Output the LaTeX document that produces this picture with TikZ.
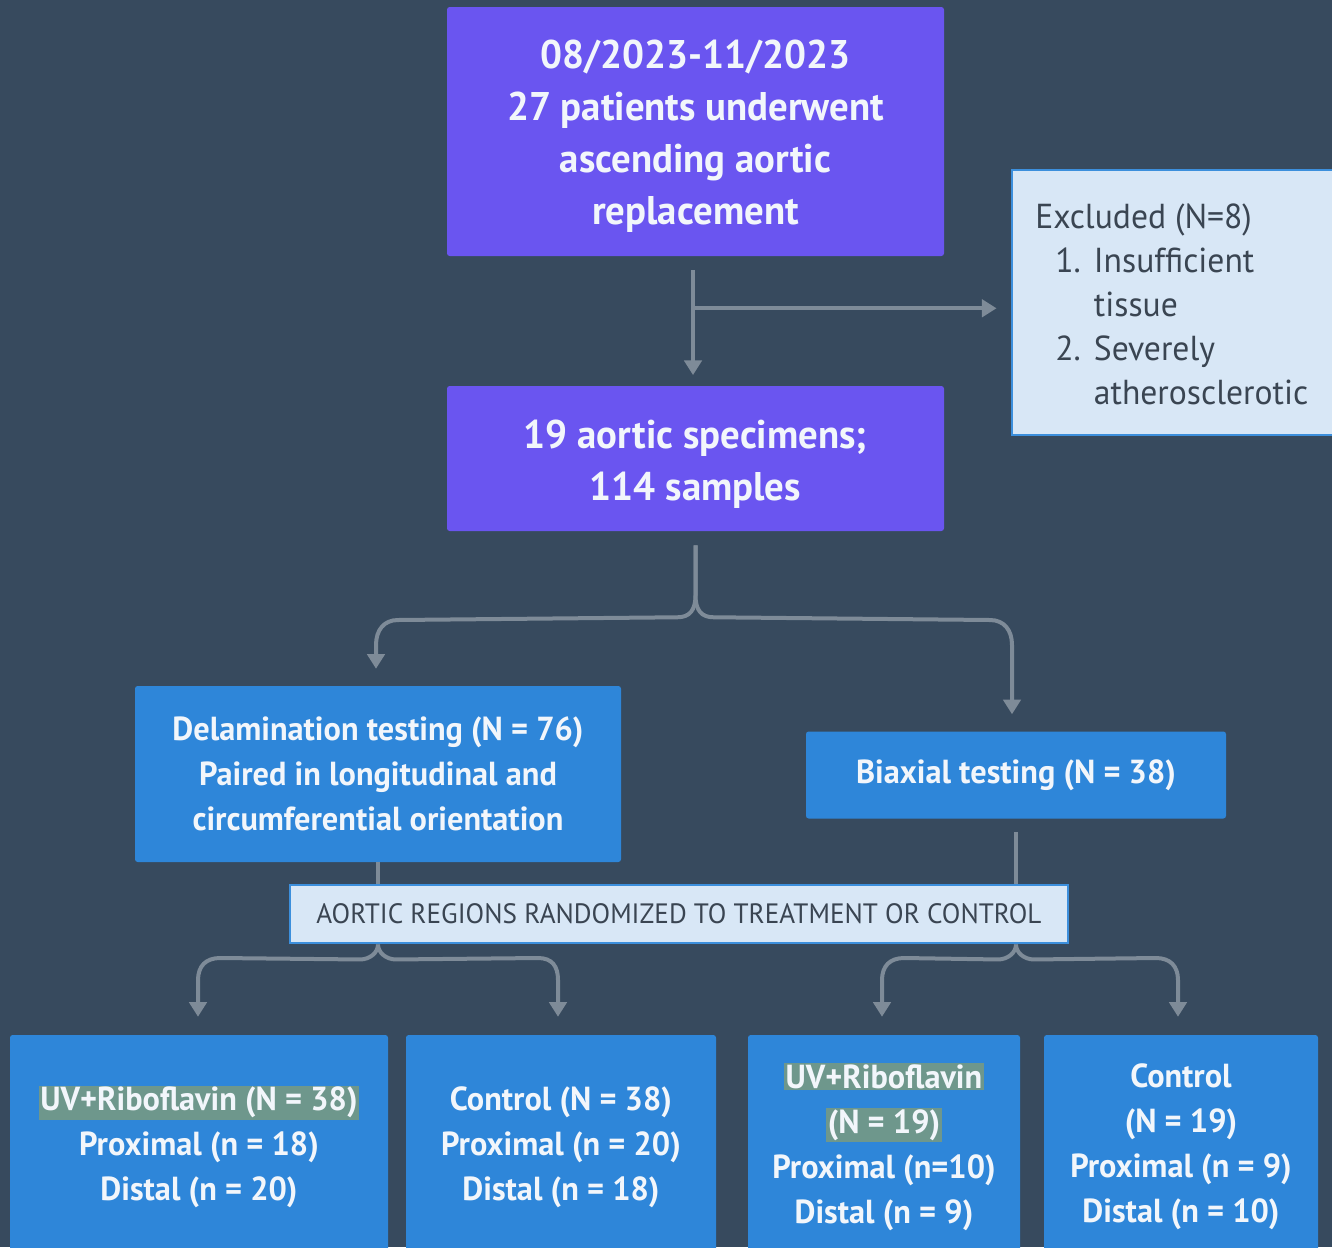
\documentclass[tikz,border=0pt]{standalone}
\usepackage{fontspec}
\setmainfont{PT Sans}[FakeStretch=0.97]
\usetikzlibrary{arrows.meta,calc}
\definecolor{bg}{HTML}{374A5E}
\definecolor{purp}{HTML}{6A55F0}
\definecolor{blu}{HTML}{2E86D9}
\definecolor{lite}{HTML}{D8E7F6}
\definecolor{liteb}{HTML}{3C8FDC}
\definecolor{arrc}{HTML}{7E8B98}
\definecolor{hlc}{HTML}{6E978C}
\definecolor{txtd}{HTML}{3A4552}
\definecolor{txtw}{HTML}{F2F6FB}
\newcommand{\hlt}[1]{{\setlength\fboxsep{1pt}\colorbox{hlc}{#1}}}
\tikzset{
  bsize/.style 2 args={minimum width=#1*0.75pt, minimum height=#2*0.75pt},
  pbox/.style={fill=purp, rounded corners=2pt, text=txtw, font=\bfseries\fontsize{30}{39}\selectfont, align=center, inner sep=0pt},
  bbox/.style={fill=blu, rounded corners=2pt, text=txtw, font=\bfseries\fontsize{25}{33.75}\selectfont, align=center, inner sep=0pt},
  lbox/.style={fill=lite, draw=liteb, line width=2.2pt, inner sep=0pt},
  arr/.style={draw=arrc, line width=3pt, -{Triangle[width=13pt,length=11pt]}},
  ln/.style={draw=arrc, line width=3pt},
}
\begin{document}
\begin{tikzpicture}[x=0.75pt,y=-0.75pt]
\useasboundingbox (0,0) rectangle (1332,1247);
\clip (0,0) rectangle (1332,1247);
\fill[bg] (0,0) rectangle (1332,1247);

% boxes
\node[pbox, bsize={497}{249}] (top) at (695.5,131.5) {\rule{0pt}{29pt}08/2023-11/2023\\27 patients underwent\\ascending aortic\\replacement};
\node[lbox, bsize={335}{265}] (excl) at (1179.5,302.5) {};
\node[anchor=north west, align=left, text=txtd, font=\fontsize{26}{33}\selectfont, inner sep=0pt] (excltxt) at (1035,204)
  {Excluded (N=8)\\
   \hspace*{15pt}\makebox[29pt][l]{1.}Insufficient\\
   \hspace*{44pt}tissue\\
   \hspace*{15pt}\makebox[29pt][l]{2.}Severely\\
   \hspace*{44pt}atherosclerotic};
\node[pbox, bsize={497}{145}] (spec) at (695.5,458.5) {\rule{0pt}{30pt}19 aortic specimens;\\114 samples};
\node[bbox, bsize={486}{176}] (delam) at (378,774) {Delamination testing (N = 76)\\Paired in longitudinal and\\circumferential orientation};
\node[bbox, bsize={420}{87}] (biax) at (1016,775) {Biaxial testing (N = 38)};
\node[lbox, bsize={778}{58}, text=txtd, font=\fontsize{21}{25}\selectfont] (rand) at (679,914) {AORTIC REGIONS RANDOMIZED TO TREATMENT OR CONTROL};
\node[bbox, bsize={378}{224}] (b1) at (199,1147) {\hlt{UV+Riboflavin (N = 38)}\\Proximal (n = 18)\\Distal (n = 20)};
\node[bbox, bsize={310}{224}] (b2) at (561,1147) {Control (N = 38)\\Proximal (n = 20)\\Distal (n = 18)};
\node[bbox, bsize={272}{224}] (b3) at (884,1147) {\hlt{UV+Riboflavin}\\\hlt{(N = 19)}\\Proximal (n=10)\\Distal (n = 9)};
\node[bbox, bsize={274}{224}] (b4) at (1181,1147) {Control\\(N = 19)\\Proximal (n = 9)\\Distal (n = 10)};

% top connectors
\draw[arr, shorten <=10.5pt, shorten >=8pt] ($(top.south)+(-2.5,0)$) -- ($(spec.north)+(-2.5,0)$);
\coordinate (br) at ($(top.south)+(-2.5,52)$);
\draw[arr, shorten >=10.5pt] (br) -- (excl.west |- br);

% brace below specimens
\coordinate (s1) at ($(spec.south)+(0,14)$);
\draw[arr, shorten >=12.75pt] (s1) -- ++(0,50) .. controls ++(0,15) and ++(12,0) .. ++(-18,22) -- (398,620) .. controls (384,620) and (376,630) .. (376,645) -- (delam.north -| 376,0);
\draw[arr, shorten >=12.75pt] (s1) -- ++(0,50) .. controls ++(0,15) and ++(-12,0) .. ++(18,22) -- (990,620) .. controls (1004,620) and (1012,630) .. (1012,645) -- (biax.north -| 1012,0);

% stubs into randomized box
\draw[ln] (delam.south) -- (rand.north -| delam.south);
\draw[ln, shorten <=9.75pt] (biax.south) -- (rand.north -| biax.south);

% brace below randomized (left)
\coordinate (r1) at (rand.south -| delam.south);
\draw[arr, shorten >=13.5pt] (r1) .. controls ++(0,8) and ++(10,0) .. ++(-18,15) -- (220,958) .. controls (206,958) and (198,966) .. (198,980) -- (b1.north -| 198,0);
\draw[arr, shorten >=13.5pt] (r1) .. controls ++(0,8) and ++(-10,0) .. ++(18,15) -- (538,958) .. controls (552,958) and (558,966) .. (558,980) -- (b2.north -| 558,0);
% brace below randomized (right)
\coordinate (r2) at (rand.south -| biax.south);
\draw[arr, shorten >=13.5pt] (r2) .. controls ++(0,8) and ++(10,0) .. ++(-18,15) -- (904,958) .. controls (890,958) and (882,966) .. (882,980) -- (b3.north -| 882,0);
\draw[arr, shorten >=13.5pt] (r2) .. controls ++(0,8) and ++(-10,0) .. ++(18,15) -- (1156,958) .. controls (1170,958) and (1178,966) .. (1178,980) -- (b4.north -| 1178,0);
\end{tikzpicture}
\end{document}
